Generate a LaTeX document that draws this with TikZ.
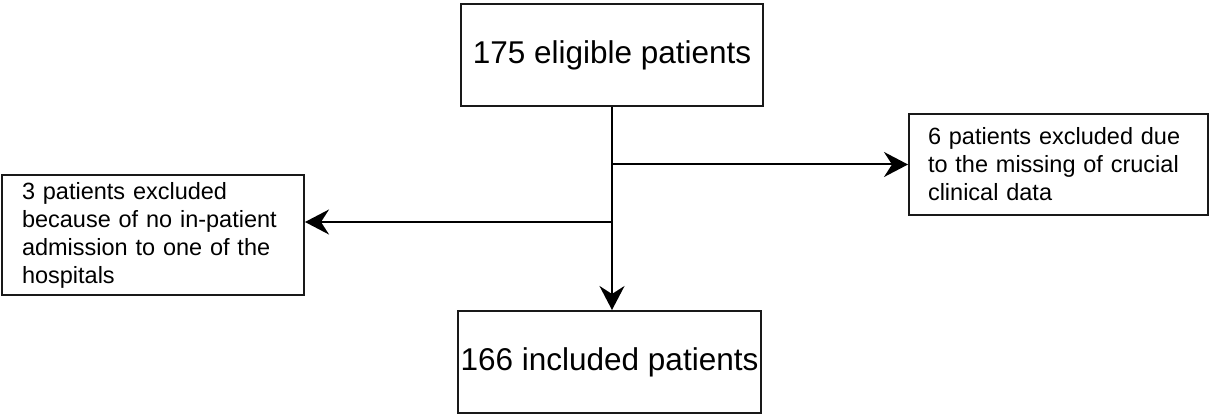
\documentclass[tikz,border=0pt]{standalone}
\usepackage{fontspec}
\setmainfont{Liberation Sans}
\usetikzlibrary{arrows.meta,positioning}

\begin{document}
\begin{tikzpicture}[x=1pt, y=-1pt, line width=2pt,
  bigbox/.style={draw=black!90, minimum width=302pt, minimum height=102pt, inner sep=0pt, font=\fontsize{31.5}{38}\selectfont},
  notebox/.style={draw=black!90, align=left, inner ysep=0pt, font=\fontsize{23.5}{28}\selectfont},
  flow/.style={-{Stealth[length=24pt, width=25pt, inset=8pt]}}]

\useasboundingbox (0,0) rectangle (1210,414);

% Patient boxes
\path
(612,55) node[bigbox] (eligible) {175 eligible patients}
(609.5,362) node[bigbox, minimum width=303pt] (included) {166 included patients};

% Exclusion boxes
\path
(153,235) node[notebox, text width=262pt, inner xsep=20pt, minimum height=120pt] (noadmit)
  {3 patients excluded\\ because of no in-patient\\ admission to one of the\\ hospitals}
(1058.5,164.5) node[notebox, text width=261pt, inner xsep=19pt, minimum height=101pt] (missing)
  {6 patients excluded due\\ to the missing of crucial\\ clinical data};

\coordinate (split) at (eligible.south |- 0,222);

% Arrows
\draw[flow] (eligible.south) -- (eligible.south |- included.north);
\draw[flow] (eligible.south |- missing.west) -- (missing.west);
\draw[flow] (split) -- (split -| noadmit.east);

\end{tikzpicture}
\end{document}
